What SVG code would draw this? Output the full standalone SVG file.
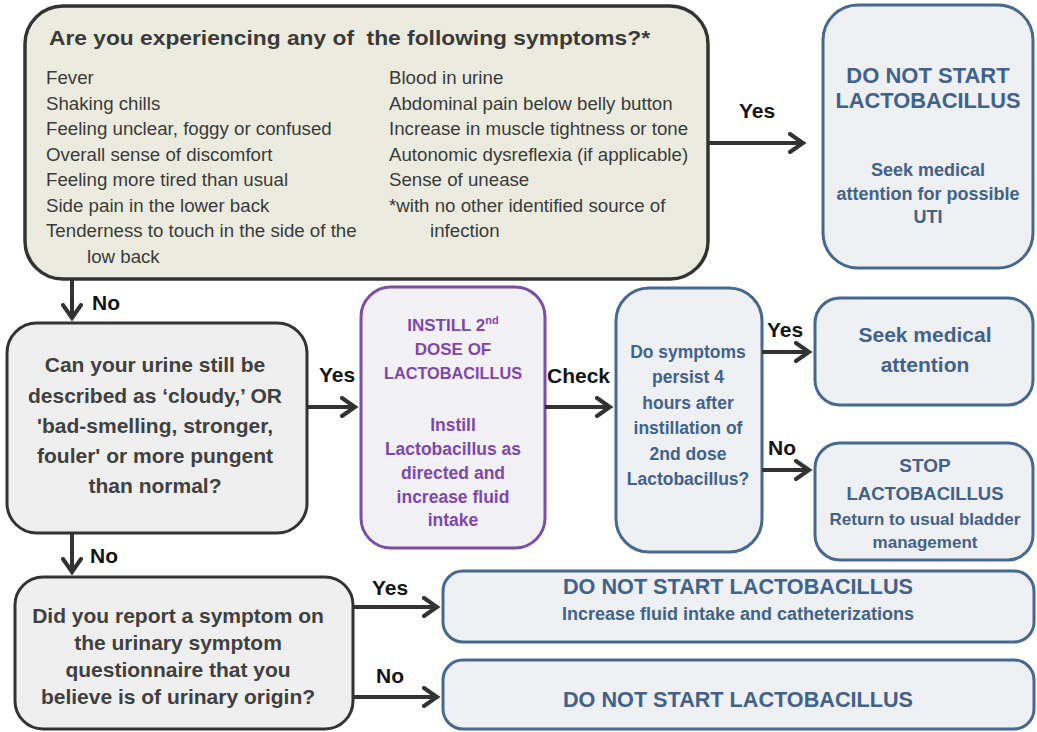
<svg xmlns="http://www.w3.org/2000/svg" width="1037" height="732" viewBox="0 0 1037 732">
<defs>
<style>
.lbl{font-family:"Liberation Sans",Arial,sans-serif;font-weight:bold;font-size:21px;fill:#141414}
.gt{font-family:"Liberation Sans",Arial,sans-serif;fill:#3a3a3a}
.bt{font-family:"Liberation Sans",Arial,sans-serif;font-weight:bold;fill:#41628b;text-anchor:middle}
.pt{font-family:"Liberation Sans",Arial,sans-serif;font-weight:bold;fill:#7f47ad;text-anchor:middle}
.q{font-family:"Liberation Sans",Arial,sans-serif;font-weight:bold;font-size:21px;fill:#404040;text-anchor:middle}
.dark{fill:#efefef;stroke:#333;stroke-width:3}
.blue{fill:#eef0f4;stroke:#47698f;stroke-width:3}
.conn{stroke:#333;stroke-width:4;fill:none;marker-end:url(#ah)}
</style>
<marker id="ah" markerUnits="userSpaceOnUse" viewBox="0 0 22 22" markerWidth="22" markerHeight="22" refX="15" refY="11" orient="auto">
<path d="M2,2 L15,11 L2,20" fill="none" stroke="#333" stroke-width="4" stroke-linecap="round"/>
</marker>
</defs>
<rect width="1037" height="732" fill="#ffffff"/>

<g id="symptoms">
<rect x="25" y="6" width="683" height="273" rx="38" fill="#ebecdf" stroke="#333" stroke-width="3.5"/>
<text class="gt" x="49" y="45" font-size="21" font-weight="bold" fill="#404040" textLength="601" lengthAdjust="spacingAndGlyphs">Are you experiencing any of&#160; the following symptoms?*</text>
<g class="gt" font-size="18.7">
<text x="46" y="84">Fever</text>
<text x="46" y="110">Shaking chills</text>
<text x="46" y="135">Feeling unclear, foggy or confused</text>
<text x="46" y="161">Overall sense of discomfort</text>
<text x="46" y="186">Feeling more tired than usual</text>
<text x="46" y="212">Side pain in the lower back</text>
<text x="46" y="237">Tenderness to touch in the side of the</text>
<text x="87" y="263">low back</text>
<text x="389" y="84">Blood in urine</text>
<text x="389" y="110">Abdominal pain below belly button</text>
<text x="389" y="135">Increase in muscle tightness or tone</text>
<text x="389" y="161">Autonomic dysreflexia (if applicable)</text>
<text x="389" y="186">Sense of unease</text>
<text x="389" y="212">*with no other identified source of</text>
<text x="430" y="237">infection</text>
</g>
</g>

<g id="uti">
<rect x="823" y="5" width="210" height="263" rx="35" class="blue"/>
<text class="bt" x="928" y="83" font-size="22">DO NOT START</text>
<text class="bt" x="928" y="108" font-size="22" textLength="185" lengthAdjust="spacingAndGlyphs">LACTOBACILLUS</text>
<text class="bt" x="928" y="176" font-size="18">Seek medical</text>
<text class="bt" x="928" y="200" font-size="18">attention for possible</text>
<text class="bt" x="928" y="223" font-size="18">UTI</text>
</g>

<g id="urine">
<rect x="7" y="323" width="300" height="210" rx="30" class="dark"/>
<text class="q" x="155" y="372">Can your urine still be</text>
<text class="q" x="155" y="403">described as ‘cloudy,’ OR</text>
<text class="q" x="155" y="433">'bad-smelling, stronger,</text>
<text class="q" x="155" y="463">fouler' or more pungent</text>
<text class="q" x="155" y="493">than normal?</text>
</g>

<g id="instill">
<rect x="361" y="287" width="184" height="261" rx="30" fill="#f2f1f6" stroke="#7b4fa3" stroke-width="3"/>
<text class="pt" x="453" y="331" font-size="17">INSTILL 2<tspan font-size="11" dy="-7">nd</tspan></text>
<text class="pt" x="453" y="355" font-size="17">DOSE OF</text>
<text class="pt" x="453" y="379" font-size="17" textLength="138" lengthAdjust="spacingAndGlyphs">LACTOBACILLUS</text>
<text class="pt" x="453" y="431" font-size="17.5">Instill</text>
<text class="pt" x="453" y="455" font-size="17.5">Lactobacillus as</text>
<text class="pt" x="453" y="479" font-size="17.5">directed and</text>
<text class="pt" x="453" y="503" font-size="17.5">increase fluid</text>
<text class="pt" x="453" y="526" font-size="17.5">intake</text>
</g>

<g id="persist">
<rect x="616" y="288" width="146" height="264" rx="33" class="blue"/>
<text class="bt" x="688" y="358" font-size="17.5">Do symptoms</text>
<text class="bt" x="688" y="383" font-size="17.5">persist 4</text>
<text class="bt" x="688" y="409" font-size="17.5">hours after</text>
<text class="bt" x="688" y="434" font-size="17.5">instillation of</text>
<text class="bt" x="688" y="460" font-size="17.5">2nd dose</text>
<text class="bt" x="688" y="485" font-size="17.5">Lactobacillus?</text>
</g>

<g id="seek">
<rect x="815" y="298" width="218" height="107" rx="25" class="blue"/>
<text class="bt" x="925" y="342" font-size="21">Seek medical</text>
<text class="bt" x="925" y="372" font-size="21">attention</text>
</g>

<g id="stop">
<rect x="815" y="443" width="218" height="117" rx="25" class="blue"/>
<text class="bt" x="925" y="472" font-size="19">STOP</text>
<text class="bt" x="925" y="500" font-size="19" textLength="157" lengthAdjust="spacingAndGlyphs">LACTOBACILLUS</text>
<text class="bt" x="925" y="525" font-size="17">Return to usual bladder</text>
<text class="bt" x="925" y="548" font-size="17">management</text>
</g>

<g id="report">
<rect x="15" y="577" width="338" height="152" rx="28" class="dark"/>
<text class="q" x="178" y="623">Did you report a symptom on</text>
<text class="q" x="178" y="650">the urinary symptom</text>
<text class="q" x="178" y="677">questionnaire that you</text>
<text class="q" x="178" y="704">believe is of urinary origin?</text>
</g>

<g id="dns-fluid">
<rect x="443" y="571" width="591" height="71" rx="20" class="blue"/>
<text class="bt" x="738" y="594" font-size="21.5" textLength="350" lengthAdjust="spacingAndGlyphs">DO NOT START LACTOBACILLUS</text>
<text class="bt" x="738" y="620" font-size="18">Increase fluid intake and catheterizations</text>
</g>

<g id="dns">
<rect x="443" y="660" width="591" height="69" rx="20" class="blue"/>
<text class="bt" x="738" y="707" font-size="21.5" textLength="350" lengthAdjust="spacingAndGlyphs">DO NOT START LACTOBACILLUS</text>
</g>

<g id="connectors">
<line class="conn" x1="708" y1="143" x2="803" y2="143"/>
<line class="conn" x1="72" y1="279" x2="72" y2="318"/>
<line class="conn" x1="307" y1="407" x2="355" y2="407"/>
<line class="conn" x1="545" y1="407" x2="610" y2="407"/>
<line class="conn" x1="762" y1="352" x2="809" y2="352"/>
<line class="conn" x1="762" y1="470" x2="809" y2="470"/>
<line class="conn" x1="72" y1="533" x2="72" y2="572"/>
<line class="conn" x1="353" y1="607" x2="437" y2="607"/>
<line class="conn" x1="353" y1="697" x2="437" y2="697"/>
<text class="lbl" x="739" y="118">Yes</text>
<text class="lbl" x="92" y="310">No</text>
<text class="lbl" x="319" y="382">Yes</text>
<text class="lbl" x="547" y="383">Check</text>
<text class="lbl" x="767" y="337">Yes</text>
<text class="lbl" x="768" y="455">No</text>
<text class="lbl" x="90" y="563">No</text>
<text class="lbl" x="372" y="595">Yes</text>
<text class="lbl" x="376" y="683">No</text>
</g>
</svg>
